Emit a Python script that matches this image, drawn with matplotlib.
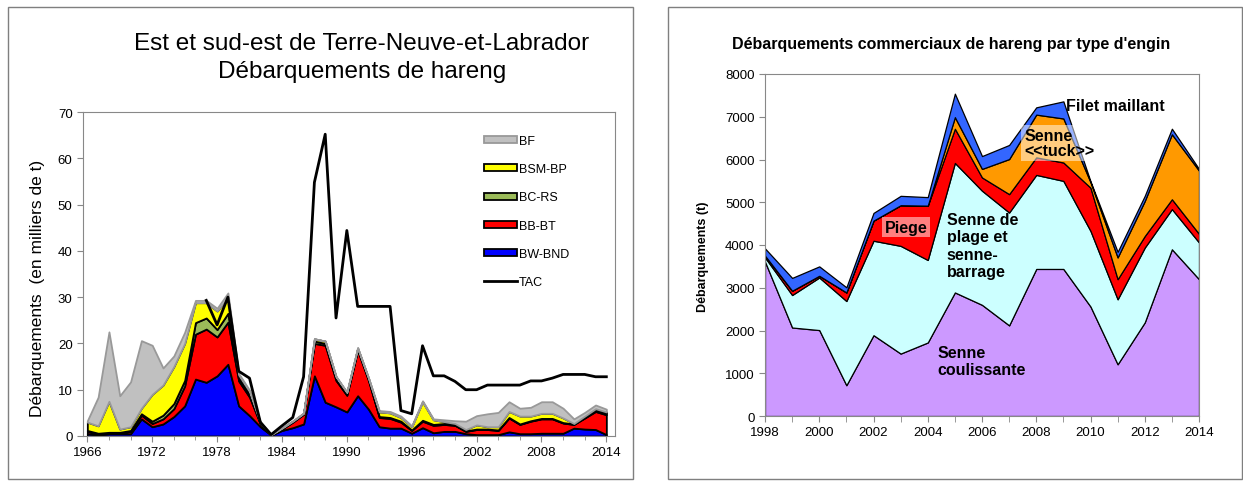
import numpy as np
import matplotlib
matplotlib.use('Agg')
import matplotlib.pyplot as plt
from matplotlib.patches import Patch, Rectangle
from matplotlib.lines import Line2D

plt.rcParams['font.family'] = ['Liberation Sans', 'DejaVu Sans']

# --- panneau de gauche : debarquements par engin (milliers de t) ---
annees = list(range(1966, 2015))
bw_bnd = [0.5, 0.3, 0.5, 0.5, 0.5, 3.7, 2.0, 2.6, 4.2, 6.5, 12.3, 11.6, 13.0, 15.5, 6.5, 4.4, 2.0, 0.2,
          1.2, 1.8, 2.6, 13.0, 7.3, 6.3, 5.2, 8.7, 5.8, 2.0, 1.7, 1.7, 0.6, 1.8, 0.7, 1.0, 1.0, 0.5,
          0.3, 0.3, 0.3, 0.9, 0.5, 0.5, 0.6, 0.6, 0.6, 1.7, 1.5, 1.4, 0.3]
bb_bt = [0.5, 0.2, 0.2, 0.2, 0.5, 0.8, 0.7, 1.1, 1.7, 4.3, 9.7, 11.5, 8.4, 9.1, 5.4, 4.0, 0.6, 0.1,
         0.3, 1.2, 2.1, 7.0, 12.3, 5.7, 3.6, 9.8, 6.2, 2.0, 2.1, 1.3, 0.6, 1.4, 1.6, 1.5, 1.3, 0.5,
         1.1, 1.1, 0.9, 3.0, 2.0, 2.7, 3.1, 3.1, 2.2, 0.8, 2.4, 3.9, 4.3]
bc_rs = [0.2, 0.1, 0.1, 0.1, 0.2, 0.3, 0.5, 0.8, 1.1, 1.2, 2.5, 2.4, 1.6, 1.9, 0.6, 0.6, 0.2, 0.0,
         0.1, 0.1, 0.1, 0.5, 0.4, 0.5, 0.4, 0.3, 0.3, 0.2, 0.2, 0.2, 0.1, 0.2, 0.2, 0.2, 0.1, 0.1,
         0.1, 0.1, 0.1, 0.1, 0.1, 0.1, 0.1, 0.1, 0.1, 0.1, 0.1, 0.3, 0.3]
bsm_bp = [1.8, 1.6, 6.7, 0.7, 0.8, 1.2, 5.8, 6.5, 8.0, 8.0, 4.3, 3.3, 4.0, 3.3, 0.7, 0.6, 0.1, 0.0,
          0.1, 0.1, 0.1, 0.5, 0.5, 0.3, 0.2, 0.2, 0.2, 1.0, 1.0, 0.8, 0.7, 4.0, 1.0, 0.4, 0.3, 0.3,
          0.9, 0.5, 0.7, 1.3, 1.7, 1.0, 1.1, 1.1, 1.0, 0.1, 0.3, 0.3, 0.3]
bf = [0.3, 6.2, 15.0, 7.2, 9.7, 14.6, 10.6, 3.7, 2.3, 2.4, 0.5, 0.5, 0.6, 1.1, 0.3, 0.3, 0.1, 0.0,
      0.1, 0.1, 0.1, 0.0, 0.0, 0.1, 0.1, 0.1, 0.1, 0.3, 0.3, 0.3, 0.2, 0.2, 0.2, 0.4, 0.6, 1.8,
      2.0, 2.8, 3.1, 2.1, 1.7, 1.9, 2.5, 2.5, 2.1, 1.0, 0.8, 0.8, 0.6]
tac_annees = list(range(1977, 2015))
tac = [29.3, 24.0, 30.0, 14.0, 12.5, 3.0, 0.3, 2.2, 4.0, 12.8, 54.8, 65.2, 25.5, 44.4, 28.0, 28.0,
       28.0, 28.0, 5.5, 4.8, 19.5, 13.0, 13.0, 11.8, 10.0, 10.0, 11.0, 11.0, 11.0, 11.0, 11.9, 11.9,
       12.5, 13.3, 13.3, 13.3, 12.8, 12.8]

# --- panneau de droite : debarquements commerciaux par type d'engin (t) ---
annees2 = list(range(1998, 2015))
senne_coul = [3610, 2070, 2010, 720, 1890, 1460, 1720, 2890, 2600, 2120, 3440, 3440, 2560, 1210, 2190, 3900, 3200]
senne_plage = [100, 760, 1230, 1970, 2210, 2520, 1930, 3030, 2670, 2640, 2200, 2060, 1770, 1520, 1750, 940, 860]
piege = [40, 100, 40, 200, 470, 950, 1270, 800, 310, 430, 410, 430, 1010, 470, 270, 230, 200]
senne_tuck = [0, 0, 0, 0, 0, 0, 0, 270, 200, 820, 1000, 1030, 130, 510, 820, 1520, 1480]
filet = [170, 300, 220, 120, 180, 220, 200, 550, 300, 330, 170, 400, 20, 130, 120, 130, 40]

W, H = 1243, 485
fig = plt.figure(figsize=(W / 100, H / 100), dpi=100)


def px(x0, y0, x1, y1):
    # rectangle en pixels (origine en haut a gauche) -> coordonnees figure
    return [x0 / W, 1 - y1 / H, (x1 - x0) / W, (y1 - y0) / H]


# cadres des deux panneaux
for (a, b, c, d) in [(8, 8, 633, 480), (668, 8, 1242, 480)]:
    r = px(a, b, c, d)
    fig.patches.append(Rectangle((r[0], r[1]), r[2], r[3], transform=fig.transFigure,
                                 fill=False, edgecolor='#7f7f7f', linewidth=1))

gris = '#888888'

# ---------------- gauche ----------------
ax1 = fig.add_axes(px(83, 113, 615, 437))
couches = [bw_bnd, bb_bt, bc_rs, bsm_bp, bf]
couleurs = ['#0000ff', '#ff0000', '#9bbb59', '#ffff00', '#c0c0c0']
bords = ['black', 'black', 'black', 'black', '#999999']
bas = np.zeros(len(annees))
for vals, col, bd in zip(couches, couleurs, bords):
    haut = bas + np.array(vals)
    ax1.fill_between(annees, bas, haut, facecolor=col, edgecolor=bd, linewidth=1.3, zorder=2)
    bas = haut
ax1.plot(tac_annees, tac, color='black', linewidth=2, zorder=3)

ax1.set_xlim(1965.6, 2014.8)
ax1.set_ylim(0, 70)
ax1.set_xticks(range(1966, 2015, 6))
ax1.set_xticks(range(1966, 2015, 2), minor=True)
ax1.set_yticks(range(0, 71, 10))
ax1.tick_params(labelsize=9.5, color=gris, length=4, direction='out')
ax1.tick_params(which='minor', color=gris, length=3)
for s in ax1.spines.values():
    s.set_color(gris)
ax1.set_ylabel('Débarquements  (en milliers de t)', fontsize=12.5)
ax1.yaxis.set_label_coords(-0.072, 0.46)

poignees = [Patch(facecolor='#c0c0c0', edgecolor='#999999', linewidth=1.3, label='BF'),
            Patch(facecolor='#ffff00', edgecolor='black', linewidth=1.3, label='BSM-BP'),
            Patch(facecolor='#9bbb59', edgecolor='black', linewidth=1.3, label='BC-RS'),
            Patch(facecolor='#ff0000', edgecolor='black', linewidth=1.3, label='BB-BT'),
            Patch(facecolor='#0000ff', edgecolor='black', linewidth=1.3, label='BW-BND'),
            Line2D([], [], color='black', linewidth=2, label='TAC')]
lp = px(474, 126, 600, 290)
ax1.legend(handles=poignees, loc='upper left', bbox_to_anchor=(lp[0], lp[1] + lp[3]),
           bbox_transform=fig.transFigure, frameon=False, fontsize=9, handlelength=2.6,
           handleheight=0.5, labelspacing=1.3, handletextpad=0.2, borderpad=0.3)

fig.text(362 / W, 1 - 44 / H, 'Est et sud-est de Terre-Neuve-et-Labrador', ha='center', va='center', fontsize=17.5)
fig.text(362 / W, 1 - 72 / H, 'Débarquements de hareng', ha='center', va='center', fontsize=17.5)

# ---------------- droite ----------------
ax2 = fig.add_axes(px(765, 75, 1199, 417))
couches2 = [senne_coul, senne_plage, piege, senne_tuck, filet]
couleurs2 = ['#cc99ff', '#ccffff', '#ff0000', '#ff9900', '#3366ff']
bas = np.zeros(len(annees2))
for vals, col in zip(couches2, couleurs2):
    haut = bas + np.array(vals)
    ax2.fill_between(annees2, bas, haut, facecolor=col, edgecolor='black', linewidth=0.9, zorder=2)
    bas = haut

ax2.set_xlim(1998, 2014)
ax2.set_ylim(0, 8000)
ax2.set_xticks(range(1998, 2015, 2))
ax2.set_xticks(range(1998, 2015), minor=True)
ax2.set_yticks(range(0, 8001, 1000))
ax2.tick_params(labelsize=9.5, color=gris, length=4, direction='out')
ax2.tick_params(which='minor', color=gris, length=4)
for s in ax2.spines.values():
    s.set_color(gris)
ax2.set_ylabel('Débarquements (t)', fontsize=9, fontweight='bold')
ax2.yaxis.set_label_coords(-0.128, 0.47)

fig.text(951 / W, 1 - 45 / H, "Débarquements commerciaux de hareng par type d'engin",
         ha='center', va='center', fontsize=11.5, fontweight='bold')

boite = dict(facecolor='white', alpha=0.5, edgecolor='none', pad=2)
ax2.text(2003.2, 4420, 'Piege', ha='center', va='center', fontsize=11.5, fontweight='bold', bbox=boite, zorder=5)
ax2.text(2004.7, 3990, 'Senne de\nplage et\nsenne-\nbarrage', ha='left', va='center', fontsize=11.5,
         fontweight='bold', zorder=5)
ax2.text(2004.35, 1290, 'Senne\ncoulissante', ha='left', va='center', fontsize=11.5, fontweight='bold',
         zorder=5)
ax2.text(2009.1, 7270, 'Filet maillant', ha='left', va='center', fontsize=11.5, fontweight='bold', zorder=5)
ax2.text(2007.55, 6390, 'Senne\n<<tuck>>', ha='left', va='center', fontsize=11.5, fontweight='bold',
         linespacing=1.05, bbox=boite, zorder=5)

fig.savefig('out.png', dpi=100)
